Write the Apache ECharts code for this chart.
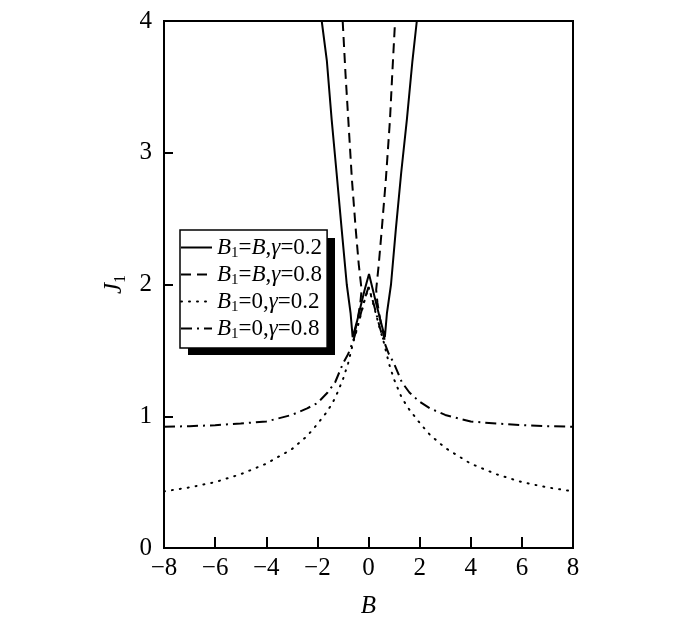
<!DOCTYPE html>
<html>
<head>
<meta charset="utf-8">
<script src="https://cdn.jsdelivr.net/npm/echarts@6/dist/echarts.min.js"></script>
<style>
    html, body { margin: 0; padding: 0; background: #fff; }
    #chart { width: 700px; height: 628px; }
</style>
</head>
<body>
<div id="chart"></div>
<script>
    "use strict";

    /*---- data ----*/
    var xTicks = [-8, -6, -4, -2, 0, 2, 4, 6, 8];
    var yTicks = [0, 1, 2, 3, 4];

    // B1 = B, gamma = 0.2 (solid)
    var solidB = [-1.83, -1.63, -1.44, -1.25, -1.05, -0.85, -0.7, -0.62, -0.45, -0.3, -0.15, 0.02, 0.17, 0.32, 0.48, 0.64, 0.72, 0.88, 1.07, 1.28, 1.5, 1.72, 1.89];
    var solidJ = [4, 3.7, 3.25, 2.85, 2.42, 2.0, 1.78, 1.6, 1.72, 1.84, 1.96, 2.08, 1.96, 1.84, 1.72, 1.6, 1.78, 2.0, 2.42, 2.85, 3.25, 3.7, 4];

    // B1 = B, gamma = 0.8 (dashed), two branches
    var dashLeftB = [-1.01, -0.9, -0.79, -0.65, -0.5, -0.38, -0.27, -0.32, -0.42, -0.52, -0.6];
    var dashLeftJ = [4, 3.6, 3.25, 2.8, 2.42, 2.15, 1.96, 1.86, 1.74, 1.65, 1.58];
    var dashRightB = [0.63, 0.55, 0.45, 0.35, 0.3, 0.4, 0.52, 0.68, 0.84, 0.93, 1.04];
    var dashRightJ = [1.58, 1.65, 1.74, 1.86, 1.96, 2.15, 2.42, 2.8, 3.25, 3.6, 4];

    // B1 = 0 curves share the B grid
    var zeroB = [-8, -7, -6, -5, -4, -3, -2.4, -2, -1.6, -1.3, -1, -0.8, -0.6, -0.45, -0.3, -0.15, 0,
        0.15, 0.3, 0.45, 0.6, 0.8, 1, 1.3, 1.6, 2, 2.4, 3, 4, 5, 6, 7, 8];
    // gamma = 0.2 (dotted)
    var dotJ = [0.43, 0.46, 0.5, 0.56, 0.64, 0.75, 0.85, 0.94, 1.04, 1.14, 1.28, 1.4, 1.56, 1.66, 1.77, 1.88, 1.98,
        1.88, 1.77, 1.66, 1.56, 1.4, 1.28, 1.14, 1.05, 0.95, 0.86, 0.76, 0.64, 0.56, 0.5, 0.46, 0.43];
    // gamma = 0.8 (dash-dot)
    var dashDotJ = [0.92, 0.925, 0.932, 0.945, 0.96, 1.01, 1.06, 1.1, 1.18, 1.26, 1.4, 1.47, 1.57, 1.67, 1.78, 1.89, 1.98,
        1.89, 1.78, 1.67, 1.57, 1.47, 1.4, 1.26, 1.18, 1.11, 1.06, 1.01, 0.96, 0.945, 0.932, 0.925, 0.92];

    var seriesNames = ['B1=B,γ=0.2', 'B1=B,γ=0.8', 'B1=0,γ=0.2', 'B1=0,γ=0.8'];
    var legendText = [
        '{i|B}{s|1}{n|=}{i|B}{n|,}{i|γ}{n|=0.2}',
        '{i|B}{s|1}{n|=}{i|B}{n|,}{i|γ}{n|=0.8}',
        '{i|B}{s|1}{n|=0,}{i|γ}{n|=0.2}',
        '{i|B}{s|1}{n|=0,}{i|γ}{n|=0.8}'
    ];

    function zip(xs, ys) {
        return xs.map(function (x, i) { return [x, ys[i]]; });
    }

    var FONT = '"Liberation Serif", "Times New Roman", serif';
    var dashData = zip(dashLeftB, dashLeftJ).concat([[0, '-']], zip(dashRightB, dashRightJ));

    function lineSeries(name, data, type, cap) {
        return {
            name: name,
            type: 'line',
            data: data,
            symbol: 'none',
            smooth: false,
            clip: true,
            lineStyle: {color: '#000', width: 2, type: type, cap: cap || 'butt'},
            itemStyle: {color: '#000'}
        };
    }

    var richSmall = {
        n: {fontFamily: FONT, fontSize: 23, color: '#000'},
        i: {fontFamily: FONT, fontSize: 23, fontStyle: 'italic', color: '#000'},
        s: {fontFamily: FONT, fontSize: 15, color: '#000', padding: [12, 0, 0, 0]}
    };

    var myChart = echarts.init(document.getElementById('chart'));
    myChart.setOption({
        animation: false,
        backgroundColor: '#fff',
        grid: {
            left: 164, top: 21, width: 409, height: 527,
            show: true, borderColor: '#000', borderWidth: 2, backgroundColor: 'transparent'
        },
        // black drop shadow behind the legend box
        graphic: [{
            type: 'rect',
            z: 3,
            shape: {x: 188, y: 238, width: 147, height: 117},
            style: {fill: '#000'}
        }],
        legend: {
            data: seriesNames,
            orient: 'vertical',
            left: 180,
            top: 230,
            padding: [6, 5, 6, 0],
            itemWidth: 31,
            itemHeight: 14,
            itemGap: 2,
            z: 5,
            backgroundColor: '#fff',
            borderColor: '#000',
            borderWidth: 1.5,
            itemStyle: {opacity: 0},
            formatter: function (name) {
                return legendText[seriesNames.indexOf(name)];
            },
            textStyle: {fontFamily: FONT, fontSize: 23, color: '#000', rich: richSmall}
        },
        xAxis: {
            type: 'value',
            min: xTicks[0],
            max: xTicks[xTicks.length - 1],
            interval: 2,
            name: 'B',
            nameLocation: 'middle',
            nameGap: 46,
            nameTextStyle: {fontFamily: FONT, fontSize: 25, fontStyle: 'italic', color: '#000'},
            axisLine: {onZero: false, lineStyle: {color: '#000', width: 2}},
            axisTick: {inside: true, length: 11, lineStyle: {color: '#000', width: 2}},
            axisLabel: {
                margin: 8,
                fontFamily: FONT, fontSize: 25, color: '#000',
                formatter: function (v) { return String(v).replace('-', '\u2212'); }
            },
            splitLine: {show: false}
        },
        yAxis: {
            type: 'value',
            min: yTicks[0],
            max: yTicks[yTicks.length - 1],
            interval: 1,
            name: '{i|J}{s|1}',
            nameLocation: 'middle',
            nameGap: 34,
            nameRotate: 90,
            nameTextStyle: {
                rich: {
                    i: {fontFamily: FONT, fontSize: 25, fontStyle: 'italic', color: '#000'},
                    s: {fontFamily: FONT, fontSize: 16, color: '#000', padding: [12, 0, 0, 0]}
                }
            },
            axisLine: {onZero: false, lineStyle: {color: '#000', width: 2}},
            axisTick: {inside: true, length: 9, lineStyle: {color: '#000', width: 2}},
            axisLabel: {margin: 12, fontFamily: FONT, fontSize: 25, color: '#000'},
            splitLine: {show: false}
        },
        series: [
            lineSeries(seriesNames[0], zip(solidB, solidJ), 'solid'),
            lineSeries(seriesNames[1], dashData, [10, 6]),
            lineSeries(seriesNames[2], zip(zeroB, dotJ), [1, 7], 'round'),
            lineSeries(seriesNames[3], zip(zeroB, dashDotJ), [11, 5, 2, 5])
        ]
    });

    window.onresize = function () {
        myChart.resize();
    };
</script>
</body>
</html>
